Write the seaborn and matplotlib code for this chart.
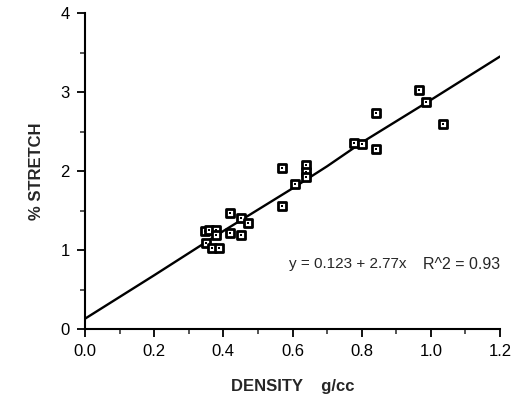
import matplotlib
matplotlib.use("Agg")
import matplotlib.pyplot as plt
import seaborn as sns
import pandas as pd
from matplotlib.ticker import MultipleLocator

# data
density = [0.348, 0.350, 0.359, 0.368, 0.380, 0.380, 0.388, 0.420, 0.420, 0.452,
           0.452, 0.472, 0.571, 0.571, 0.608, 0.640, 0.640, 0.640, 0.777, 0.800,
           0.840, 0.840, 0.967, 0.985, 1.035]
stretch = [1.24, 1.09, 1.25, 1.02, 1.25, 1.19, 1.02, 1.47, 1.22, 1.41,
           1.19, 1.34, 2.04, 1.56, 1.83, 2.07, 1.99, 1.92, 2.36, 2.34,
           2.73, 2.28, 3.02, 2.87, 2.59]
fit_x = [0.0, 0.2, 0.4, 0.6, 0.7, 0.8, 1.0, 1.2]
fit_y = [0.13, 0.68, 1.24, 1.78, 2.06, 2.36, 2.90, 3.45]
x_ticks = [0.0, 0.2, 0.4, 0.6, 0.8, 1.0, 1.2]
x_tick_labels = ["0.0", "0.2", "0.4", "0.6", "0.8", "1.0", "1.2"]
y_ticks = [0, 1, 2, 3, 4]
y_tick_labels = ["0", "1", "2", "3", "4"]
equation_text = "y = 0.123 + 2.77x"
r2_text = "R^2 = 0.93"

sns.set_style("ticks")
plt.rcParams["font.family"] = ["Liberation Sans", "DejaVu Sans"]

fig = plt.figure(figsize=(5.15, 4.0), dpi=100)
ax = fig.add_axes([0.165, 0.1775, 0.806, 0.79])

df = pd.DataFrame({"density": density, "stretch": stretch})
fit = pd.DataFrame({"x": fit_x, "y": fit_y})

sns.lineplot(data=fit, x="x", y="y", ax=ax, color="black", lw=1.7, zorder=2)
sns.scatterplot(data=df, x="density", y="stretch", ax=ax, marker="s", s=34,
                facecolor="white", edgecolor="black", linewidth=2.0, zorder=3)
sns.scatterplot(data=df, x="density", y="stretch", ax=ax, marker="s", s=2,
                color="black", linewidth=0, zorder=4)

ax.set_xlim(0, 1.2)
ax.set_ylim(0, 4)
ax.set_xticks(x_ticks)
ax.set_xticklabels(x_tick_labels)
ax.set_yticks(y_ticks)
ax.set_yticklabels(y_tick_labels)
ax.xaxis.set_minor_locator(MultipleLocator(0.1))
ax.yaxis.set_minor_locator(MultipleLocator(0.5))
ax.tick_params(axis="both", which="major", direction="out", length=6, width=1.3,
               labelsize=12, colors="black", pad=5)
ax.tick_params(axis="both", which="minor", direction="out", length=3.5, width=1.1)
for lab in ax.get_xticklabels() + ax.get_yticklabels():
    lab.set_fontweight("medium")

sns.despine(ax=ax)
for sp in ["left", "bottom"]:
    ax.spines[sp].set_linewidth(1.5)
    ax.spines[sp].set_color("black")

ax.set_xlabel("DENSITY    g/cc", fontsize=12, fontweight="bold", labelpad=14)
ax.set_ylabel("% STRETCH", fontsize=12, fontweight="bold", labelpad=12)

ax.text(0.59, 0.82, equation_text, fontsize=11, ha="left", va="center")
ax.text(0.977, 0.82, r2_text, fontsize=11.5, ha="left", va="center")

fig.savefig("out.png", dpi=100)
